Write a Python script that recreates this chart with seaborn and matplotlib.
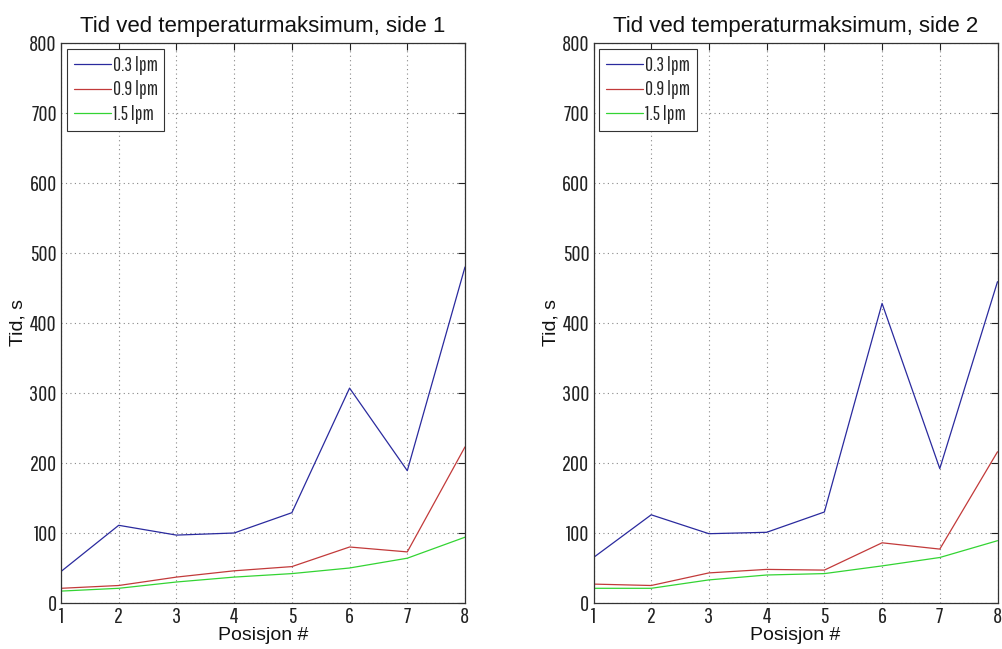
import matplotlib
matplotlib.use("Agg")
import matplotlib.pyplot as plt
from matplotlib import font_manager
import seaborn as sns
import pandas as pd

positions = [1, 2, 3, 4, 5, 6, 7, 8]
series_labels = ["0.3 lpm", "0.9 lpm", "1.5 lpm"]
side1_03 = [45, 111, 97, 100, 129, 307, 189, 480]
side1_09 = [21, 25, 37, 46, 52, 80, 73, 223]
side1_15 = [17, 21, 30, 37, 42, 50, 64, 94]
side2_03 = [65, 126, 99, 101, 130, 428, 192, 459]
side2_09 = [27, 25, 43, 48, 47, 86, 77, 216]
side2_15 = [21, 21, 33, 40, 42, 53, 65, 89]
titles = ["Tid ved temperaturmaksimum, side 1", "Tid ved temperaturmaksimum, side 2"]
yticks = [0, 100, 200, 300, 400, 500, 600, 700, 800]

sns.set_theme(style="white")
names = {f.name for f in font_manager.fontManager.ttflist}
narrow = "DejaVu Sans"
for cand in ["Pathway Gothic One", "Antonio", "Roboto Condensed", "Archivo Narrow",
             "Liberation Sans Narrow", "Oswald"]:
    if cand in names:
        narrow = cand
        break
plt.rcParams["font.family"] = ["Liberation Sans", "DejaVu Sans"]

palette = {"0.3 lpm": "#2a2a9e", "0.9 lpm": "#c23a3a", "1.5 lpm": "#33d433"}

def make_df(a, b, c):
    rows = []
    for lab, vals in zip(series_labels, [a, b, c]):
        for p, v in zip(positions, vals):
            rows.append({"Posisjon": p, "Tid": v, "Serie": lab})
    return pd.DataFrame(rows)

dfs = [make_df(side1_03, side1_09, side1_15), make_df(side2_03, side2_09, side2_15)]

fig = plt.figure(figsize=(10.03, 6.49), dpi=100)
lefts = [61 / 1003, 593.5 / 1003]
for i in range(2):
    ax = fig.add_axes([lefts[i], 1 - 603 / 649, 404 / 1003, 560 / 649])
    sns.lineplot(data=dfs[i], x="Posisjon", y="Tid", hue="Serie", palette=palette,
                 hue_order=series_labels, linewidth=0.9, ax=ax)
    ax.set_xlim(1, 8)
    ax.set_ylim(0, 800)
    ax.set_xticks(positions)
    ax.set_yticks(yticks)
    ax.grid(True, linestyle=(0, (1, 3)), color="#888888", linewidth=0.8)
    ax.tick_params(direction="in", top=True, right=True, length=5, width=0.8,
                   colors="#222222", labelsize=16, pad=3)
    ax.tick_params(axis="x", pad=3)
    for lab in ax.get_xticklabels() + ax.get_yticklabels():
        lab.set_family(narrow)
    for s in ax.spines.values():
        s.set_color("#333333")
        s.set_linewidth(0.9)
    ax.set_title(titles[i], fontsize=16, pad=8, color="#111111")
    ax.set_xlabel("Posisjon #", fontsize=14, labelpad=0, color="#111111")
    ax.set_ylabel("Tid, s", fontsize=14, labelpad=2, color="#111111")
    leg = ax.legend(loc="upper left", title=None, fancybox=False, framealpha=1,
                    edgecolor="#333333", borderaxespad=0.3, handlelength=1.9,
                    handletextpad=0.1, labelspacing=0.3, borderpad=0.35,
                    prop={"family": narrow, "size": 14})
    leg.get_frame().set_linewidth(0.8)

fig.savefig("out.png", dpi=100, facecolor="white")
